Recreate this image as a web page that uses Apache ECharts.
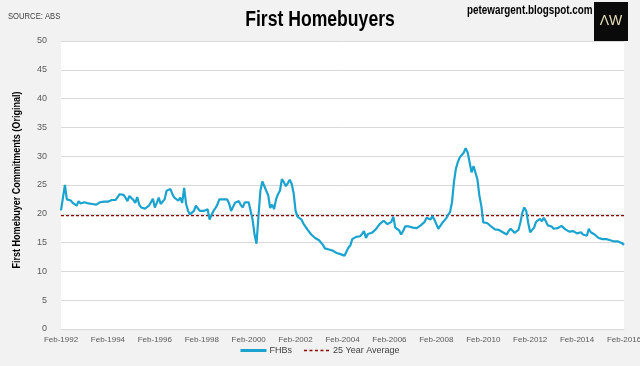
<!DOCTYPE html>
<html>
<head>
<meta charset="utf-8">
<script src="https://cdn.jsdelivr.net/npm/echarts@6/dist/echarts.min.js"></script>
<style>
html,body{margin:0;padding:0;background:#f2f2f2;}
#c{width:640px;height:366px;}
</style>
</head>
<body>
<div id="c"></div>
<script>
const startYear = 1992;
const monthCount = 289;
const tickLabels = ['Feb-1992','Feb-1994','Feb-1996','Feb-1998','Feb-2000','Feb-2002','Feb-2004','Feb-2006','Feb-2008','Feb-2010','Feb-2012','Feb-2014','Feb-2016'];
const fhbs = [
20.6,22.8,25.0,22.5,22.6,22.3,21.9,21.6,21.4,22.2,21.8,21.9,
22.0,22.2,21.8,21.5,21.7,21.8,21.6,21.8,22.0,22.3,22.1,22.0,
22.1,22.2,22.4,22.6,22.4,22.3,23.4,23.2,23.3,22.8,22.2,23.1,
22.8,22.4,21.9,22.9,21.6,21.1,20.9,20.9,21.1,21.4,21.7,22.6,
21.1,21.9,22.8,21.7,22.0,22.5,24.0,24.2,24.3,23.4,22.8,22.5,
22.3,22.8,21.9,24.5,21.7,20.5,19.9,20.2,20.5,21.4,21.1,20.5,
20.8,20.5,20.6,20.8,19.0,19.8,20.5,21.0,21.6,22.5,22.3,22.5,
22.2,22.5,21.8,20.5,20.8,21.9,22.0,22.2,21.5,21.1,22.0,22.2,
22.0,20.5,19.0,16.4,14.8,19.5,24.0,25.6,25.8,24.0,23.2,21.0,
21.6,20.8,22.5,23.4,24.0,26.0,25.5,24.8,25.3,25.9,25.2,23.6,
20.5,19.5,19.3,19.0,18.3,18.0,17.3,17.0,16.4,16.1,15.8,15.5,
15.4,15.2,14.6,14.0,13.7,13.8,13.8,13.6,13.3,13.2,13.1,13.0,
12.9,12.7,13.4,14.1,14.5,15.6,15.9,16.0,16.1,16.1,16.5,17.0,
15.8,16.5,16.6,16.7,16.6,17.3,17.6,18.2,18.0,18.8,19.0,18.2,
17.9,18.6,19.5,17.6,17.4,17.1,16.4,17.0,17.8,18.0,17.8,17.5,
17.6,17.9,17.5,17.7,18.0,18.2,18.6,19.3,19.2,19.0,19.6,19.0,
18.2,17.4,17.9,18.4,18.6,19.2,19.8,20.3,22.0,25.5,27.8,29.0,
29.8,30.2,30.6,31.4,30.7,29.0,27.2,28.3,28.4,26.0,23.2,21.4,
18.5,18.3,18.4,18.2,17.8,17.6,17.3,17.2,17.2,17.4,16.8,17.0,
16.4,17.0,17.4,17.2,16.7,16.6,17.2,18.5,20.2,21.1,20.5,18.4,
16.8,16.6,17.6,18.6,18.7,19.1,18.7,19.3,18.7,18.0,17.9,17.8,
17.4,17.2,17.5,17.7,17.9,17.8,17.3,17.0,16.9,16.8,17.0,16.7,
16.6,16.4,16.8,16.4,16.6,16.2,17.4,16.8,16.7,16.4,16.2,15.8,
15.6,15.6,15.6,15.6,15.5,15.4,15.4,15.2,15.0,15.2,15.0,14.9,
14.6
];
const avgValue = 19.7;

const monNames = ['Jan','Feb','Mar','Apr','May','Jun','Jul','Aug','Sep','Oct','Nov','Dec'];
const categories = [];
for (let i = 0; i < monthCount; i++) {
  const t = 1 + i;
  categories.push(monNames[t % 12] + '-' + (startYear + Math.floor(t / 12)));
}
const avgSeries = categories.map(() => avgValue);

const chart = echarts.init(document.getElementById('c'), null, {renderer: 'canvas'});
const font = "'Liberation Sans',Arial,sans-serif";
chart.setOption({
  backgroundColor: '#f2f2f2',
  animation: false,
  graphic: [
    {type: 'text', x: 320, y: 20, scaleX: 0.8, style: {text: 'First Homebuyers', textAlign: 'center', textVerticalAlign: 'middle', fontFamily: font, fontSize: 22, fontWeight: 'bold', fill: '#000'}},
    {type: 'text', x: 8, y: 17, scaleX: 0.85, style: {text: 'SOURCE: ABS', textVerticalAlign: 'middle', fontFamily: font, fontSize: 9, fill: '#404040'}},
    {type: 'text', x: 467, y: 11, scaleX: 0.79, style: {text: 'petewargent.blogspot.com', textVerticalAlign: 'middle', fontFamily: font, fontSize: 12.5, fontWeight: 'bold', fill: '#000'}},
    {type: 'rect', x: 594, y: 2, shape: {width: 34, height: 39}, style: {fill: '#0a0a0a'}},
    {type: 'text', x: 611, y: 21, style: {text: 'ΛW', textAlign: 'center', textVerticalAlign: 'middle', fontFamily: font, fontSize: 14, fill: '#e6dcb8'}},
    {type: 'text', x: 17, y: 180, rotation: Math.PI / 2, scaleX: 0.82, style: {text: 'First Homebuyer Commitments (Original)', textAlign: 'center', textVerticalAlign: 'middle', fontFamily: font, fontSize: 11, fontWeight: 'bold', fill: '#000'}}
  ],
  legend: {
    bottom: 6,
    left: 'center',
    itemWidth: 26,
    itemHeight: 3,
    itemGap: 12,
    textStyle: {fontFamily: font, fontSize: 9, color: '#404040', padding: [0, 0, 0, -2]},
    data: [
      {name: 'FHBs', icon: 'path://M0,0h26v3h-26z', itemStyle: {color: '#1ba3cf'}},
      {name: '25 Year Average', icon: 'path://M0,0h3v1.5h-3z M5.5,0h3v1.5h-3z M11,0h3v1.5h-3z M16.5,0h3v1.5h-3z M22,0h3v1.5h-3z M26,0h0v1.5h0z', itemStyle: {color: '#8b0000'}}
    ]
  },
  grid: {left: 61, right: 16, top: 41, bottom: 37, show: true, backgroundColor: '#fff', borderWidth: 0, outerBoundsMode: 'none', containLabel: false},
  xAxis: {
    type: 'category',
    data: categories,
    boundaryGap: false,
    axisLine: {show: true, lineStyle: {color: '#d9d9d9'}},
    axisTick: {show: false},
    axisLabel: {
      interval: 23,
      fontFamily: font, fontSize: 8, color: '#595959', margin: 7,
      formatter: (v, i) => tickLabels[i / 24] || v
    },
    splitLine: {show: false}
  },
  yAxis: {
    type: 'value',
    min: 0, max: 50, interval: 5,
    axisLine: {show: false},
    axisTick: {show: false},
    axisLabel: {fontFamily: font, fontSize: 9, color: '#595959', margin: 14},
    splitLine: {lineStyle: {color: '#d9d9d9', width: 1}}
  },
  series: [
    {
      name: 'FHBs', type: 'line', data: fhbs, symbol: 'none',
      lineStyle: {color: '#1ba3cf', width: 2.2},
      itemStyle: {color: '#1ba3cf'}, z: 3
    },
    {
      name: '25 Year Average', type: 'line', data: avgSeries, symbol: 'none',
      lineStyle: {color: '#8b0000', width: 1.2, type: [3, 2]},
      itemStyle: {color: '#8b0000'}, z: 2
    }
  ]
});
</script>
</body>
</html>
